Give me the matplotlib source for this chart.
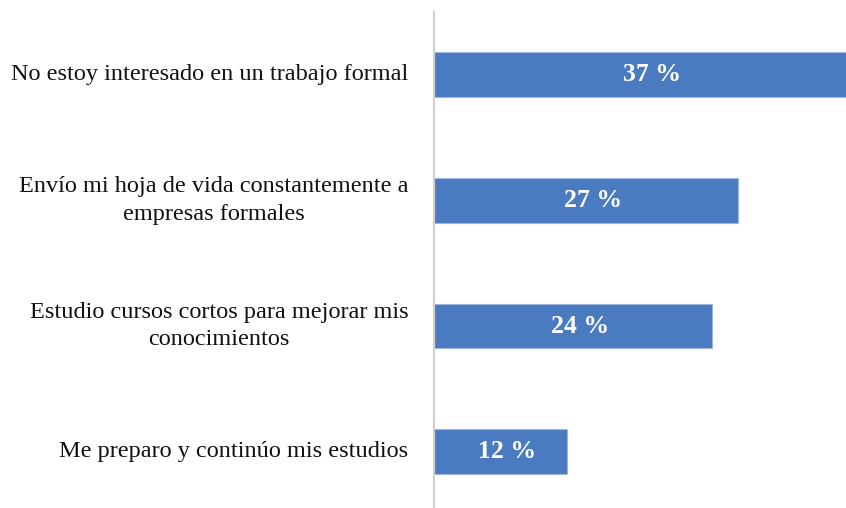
import matplotlib.pyplot as plt

plt.rcParams['font.family'] = ['Liberation Serif', 'DejaVu Serif']

categories = [
    'No estoy interesado en un trabajo formal',
    'Envío mi hoja de vida constantemente a\nempresas formales',
    'Estudio cursos cortos para mejorar mis\nconocimientos',
    'Me preparo y continúo mis estudios',
]
values = [37.2, 26.8, 24.5, 11.7]
value_labels = ['37 %', '27 %', '24 %', '12 %']

fig = plt.figure(figsize=(8.46, 5.08), dpi=100)
ax = fig.add_axes([0.513, -0.013, 0.487, 0.990])

pos = range(len(categories))
ax.barh(pos, values, height=0.357, color='#4a7bc0',
        edgecolor='#9db6de', linewidth=0.8)

ax.set_xlim(0, 36.3)
ax.set_ylim(3.5, -0.5)

for i, (v, lab) in enumerate(zip(values, value_labels)):
    ax.text(v / 2 + 0.6, i, lab, ha='center', va='center', color='white',
            fontsize=18.5, fontweight='bold')

for i, cat in enumerate(categories):
    ax.text(-0.062, i, cat, transform=ax.get_yaxis_transform(),
            ha='right', va='center', multialignment='center',
            fontsize=17.5, color='#111111', linespacing=1.42)

for s in ['top', 'right', 'bottom']:
    ax.spines[s].set_visible(False)
ax.spines['left'].set_color('#d0d0d0')
ax.spines['left'].set_linewidth(1.6)
ax.set_xticks([])
ax.set_yticks([])

fig.savefig('out.png', dpi=100)
